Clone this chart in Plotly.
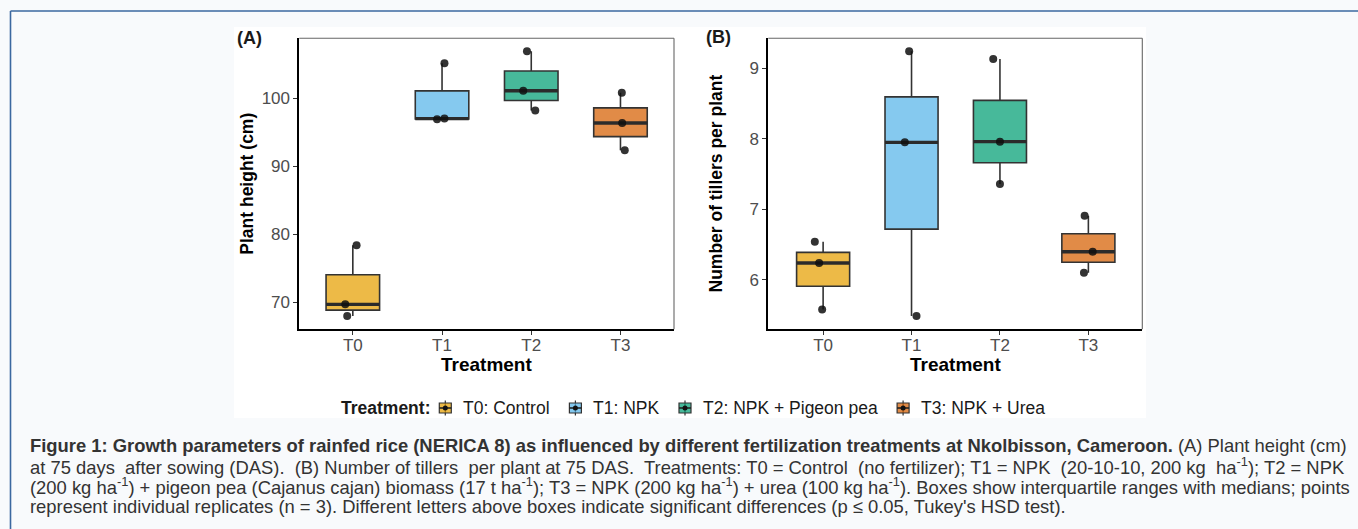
import numpy as np
import plotly.graph_objects as go

W, H = 1358, 529

# ---------------- data ----------------
CATEGORIES = ["T0", "T1", "T2", "T3"]
LEGEND_LABELS = ["T0: Control", "T1: NPK", "T2: NPK + Pigeon pea", "T3: NPK + Urea"]

HEIGHT_T0 = [68.0, 69.7, 78.4]
HEIGHT_T1 = [96.9, 97.0, 105.15]
HEIGHT_T2 = [98.2, 101.1, 106.9]
HEIGHT_T3 = [92.35, 96.35, 100.8]

TILLERS_T0 = [5.58, 6.24, 6.54]
TILLERS_T1 = [5.49, 7.95, 9.24]
TILLERS_T2 = [7.36, 7.96, 9.13]
TILLERS_T3 = [6.10, 6.40, 6.91]

HEIGHT_TICKS = [70, 80, 90, 100]
TILLER_TICKS = [6, 7, 8, 9]

# horizontal jitter of the replicate points (category units), same order as values
JITTER_A = [[-0.063, -0.085, 0.042], [-0.056, 0.027, 0.027],
            [0.045, -0.090, -0.048], [0.048, 0.019, 0.015]]
JITTER_B = [[-0.011, -0.045, -0.094], [0.056, -0.076, -0.027],
            [0.0, 0.0, -0.076], [-0.050, 0.049, -0.042]]

# ---------------- style ----------------
BASE = [(230, 159, 0), (86, 180, 233), (0, 158, 115), (213, 94, 0)]
FILLS = ["rgba(%d,%d,%d,0.72)" % c for c in BASE]
BOX_W = 0.6
FONT = "Liberation Sans, Arial, Helvetica, sans-serif"
TICK_COL = "#4d4d4d"


def px(x):
    return x / W


def py(y):
    return 1 - y / H


fig = go.Figure()

panels = [
    ("x", "y", [HEIGHT_T0, HEIGHT_T1, HEIGHT_T2, HEIGHT_T3], JITTER_A),
    ("x2", "y2", [TILLERS_T0, TILLERS_T1, TILLERS_T2, TILLERS_T3], JITTER_B),
]

for xa, ya, groups, jit in panels:
    for i, vals in enumerate(groups):
        fig.add_trace(go.Box(
            x=[i] * len(vals), y=vals, xaxis=xa, yaxis=ya,
            width=BOX_W, fillcolor=FILLS[i],
            line=dict(color="#333333", width=1.6),
            whiskerwidth=0, boxpoints=False, quartilemethod="inclusive",
            showlegend=False, hoverinfo="skip",
        ))
    # thick median lines
    mx, my = [], []
    for i, vals in enumerate(groups):
        m = float(np.median(vals))
        mx += [i - BOX_W / 2, i + BOX_W / 2, None]
        my += [m, m, None]
    fig.add_trace(go.Scatter(x=mx, y=my, xaxis=xa, yaxis=ya, mode="lines",
                             line=dict(color="#2b2b2b", width=3.4),
                             showlegend=False, hoverinfo="skip"))
    # replicate points
    ptx, pty = [], []
    for i, vals in enumerate(groups):
        for j, v in enumerate(vals):
            ptx.append(i + jit[i][j])
            pty.append(v)
    fig.add_trace(go.Scatter(x=ptx, y=pty, xaxis=xa, yaxis=ya, mode="markers",
                             marker=dict(color="rgba(15,15,15,0.85)", size=8),
                             showlegend=False, hoverinfo="skip"))

axis_common = dict(showgrid=False, zeroline=False, showline=True,
                   linecolor="black", linewidth=1.8, ticks="outside",
                   ticklen=4, tickwidth=1.1, tickcolor="#333333",
                   tickfont=dict(family=FONT, size=17, color=TICK_COL))

ybot, ytop = 329.3, 38.3
A_L, A_R = 299.3, 674.0
B_L, B_R = 768.3, 1142.3

fig.update_layout(
    width=W, height=H,
    margin=dict(l=0, r=0, t=0, b=0),
    paper_bgcolor="#f8fafc", plot_bgcolor="white",
    font=dict(family=FONT, color="#222"),
    xaxis=dict(domain=[px(A_L), px(A_R)], range=[-0.6, 3.6], anchor="y",
               tickvals=[0, 1, 2, 3], ticktext=CATEGORIES, ticklabelstandoff=-5,
               **axis_common),
    yaxis=dict(domain=[py(ybot), py(ytop)], range=[66.03, 108.8], anchor="x",
               tickvals=HEIGHT_TICKS, **axis_common),
    xaxis2=dict(domain=[px(B_L), px(B_R)], range=[-0.62, 3.61], anchor="y2",
                tickvals=[0, 1, 2, 3], ticktext=CATEGORIES, ticklabelstandoff=-5,
                **axis_common),
    yaxis2=dict(domain=[py(ybot), py(ytop)], range=[5.30, 9.425], anchor="x2",
                tickvals=TILLER_TICKS, **axis_common),
)

shapes = []
# white figure area
shapes.append(dict(type="rect", xref="paper", yref="paper", layer="below",
                   x0=px(234), x1=px(1146), y0=py(418), y1=py(27),
                   fillcolor="white", line=dict(width=0)))
# blue frame (top and left edges visible)
shapes.append(dict(type="line", xref="paper", yref="paper", x0=px(10.5), x1=px(1400),
                   y0=py(11), y1=py(11), line=dict(color="#3b68a0", width=1.6)))
shapes.append(dict(type="line", xref="paper", yref="paper", x0=px(10.5), x1=px(10.5),
                   y0=py(11), y1=py(600), line=dict(color="#3b68a0", width=1.6)))
# grey top/right panel borders
for L, R in [(A_L, A_R), (B_L, B_R)]:
    shapes.append(dict(type="line", xref="paper", yref="paper", x0=px(L), x1=px(R),
                       y0=py(ytop), y1=py(ytop), line=dict(color="#666666", width=1.1)))
    shapes.append(dict(type="line", xref="paper", yref="paper", x0=px(R), x1=px(R),
                       y0=py(ytop), y1=py(ybot), line=dict(color="#666666", width=1.1)))

annotations = []


def ann(text, x, y, size, xanchor="center", yanchor="middle", angle=0, color="#1a1a1a"):
    annotations.append(dict(text=text, x=px(x), y=py(y), xref="paper", yref="paper",
                            xanchor=xanchor, yanchor=yanchor, textangle=angle,
                            showarrow=False, font=dict(family=FONT, size=size, color=color)))


# panel tags
ann("<b>(A)</b>", 235, 38, 18, xanchor="left")
ann("<b>(B)</b>", 704, 37, 18, xanchor="left")
# axis titles
ann("<b>Plant height (cm)</b>", 246.7, 184, 17.5, angle=-90, color="black")
ann("<b>Number of tillers per plant</b>", 715, 183.5, 17.5, angle=-90, color="black")
ann("<b>Treatment</b>", (A_L + A_R) / 2, 364, 19, color="black")
ann("<b>Treatment</b>", (B_L + B_R) / 2, 364, 19, color="black")

# legend (drawn manually, centred under the two panels)
LEG_Y = 408
LEG_FS = 17.5
ann("<b>Treatment:</b>", 338.9, LEG_Y, LEG_FS, xanchor="left", color="#1a1a1a")
key_x = [445.3, 575.4, 685.0, 903.1]
text_x = [461.2, 591.3, 700.9, 919.0]
for i in range(4):
    kx = key_x[i]
    shapes.append(dict(type="line", xref="paper", yref="paper", x0=px(kx), x1=px(kx),
                       y0=py(LEG_Y - 7.5), y1=py(LEG_Y + 7.5), line=dict(color="#333", width=1.2)))
    shapes.append(dict(type="rect", xref="paper", yref="paper",
                       x0=px(kx - 6), x1=px(kx + 6), y0=py(LEG_Y + 5), y1=py(LEG_Y - 5),
                       fillcolor=FILLS[i], line=dict(color="#333", width=1.2)))
    shapes.append(dict(type="line", xref="paper", yref="paper", x0=px(kx - 6), x1=px(kx + 6),
                       y0=py(LEG_Y), y1=py(LEG_Y), line=dict(color="#222", width=1.6)))
    shapes.append(dict(type="circle", xref="paper", yref="paper",
                       x0=px(kx - 2.5), x1=px(kx + 2.5), y0=py(LEG_Y + 2.5), y1=py(LEG_Y - 2.5),
                       fillcolor="#111", line=dict(width=0)))
    ann(LEGEND_LABELS[i], text_x[i], LEG_Y, LEG_FS, xanchor="left", color="#1a1a1a")

# caption
CAP = [
    "<b>Figure 1: Growth parameters of rainfed rice (NERICA 8) as influenced by different fertilization treatments at Nkolbisson, Cameroon.</b> (A) Plant height (cm)",
    "at 75 days  after sowing (DAS).  (B) Number of tillers  per plant at 75 DAS.  Treatments: T0 = Control  (no fertilizer); T1 = NPK  (20-10-10, 200 kg  ha<sup>-1</sup>); T2 = NPK",
    "(200 kg ha<sup>-1</sup>) + pigeon pea (Cajanus cajan) biomass (17 t ha<sup>-1</sup>); T3 = NPK (200 kg ha<sup>-1</sup>) + urea (100 kg ha<sup>-1</sup>). Boxes show interquartile ranges with medians; points",
    "represent individual replicates (n = 3). Different letters above boxes indicate significant differences (p \u2264 0.05, Tukey's HSD test).",
]
CAP_Y = [445, 465.5, 486, 506]
for t, yy in zip(CAP, CAP_Y):
    ann(t, 28, yy, 18.4, xanchor="left", color="#333333")

fig.update_layout(shapes=shapes, annotations=annotations)
fig.write_html("out.html")
